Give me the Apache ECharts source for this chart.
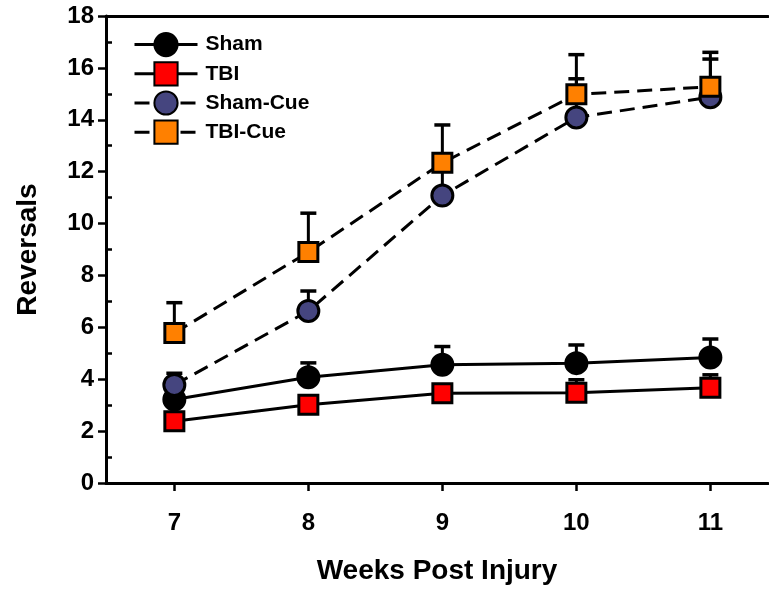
<!DOCTYPE html>
<html>
<head>
<meta charset="utf-8">
<script src="https://cdn.jsdelivr.net/npm/echarts@6/dist/echarts.min.js"></script>
<style>
  html, body { margin: 0; padding: 0; background: #fff; }
  #chart { width: 769px; height: 590px; }
</style>
</head>
<body>
<div id="chart"></div>
<script>
// Weeks after injury (x values)
const weeks = [7, 8, 9, 10, 11];
const weekTicks = [7, 8, 9, 10, 11];
const reversalTicks = [0, 2, 4, 6, 8, 10, 12, 14, 16, 18];
const minorTicks = [1, 3, 5, 7, 9, 11, 13, 15, 17];

// Group means and upper error (SEM)
const sham = [3.22, 4.08, 4.56, 4.62, 4.84];
const shamErr = [0.4, 0.55, 0.7, 0.7, 0.71];
const tbi = [2.38, 3.02, 3.46, 3.48, 3.67];
const tbiErr = [0.3, 0.3, 0.3, 0.5, 0.5];
const shamCue = [3.78, 6.63, 11.08, 14.09, 14.87];
const shamCueErr = [0.45, 0.77, 1.1, 1.49, 1.47];
const tbiCue = [5.78, 8.9, 12.34, 14.98, 15.27];
const tbiCueErr = [1.17, 1.5, 1.46, 1.53, 1.33];

const FONT = '"Liberation Sans", Arial, sans-serif';

function pairs(vals) { return weeks.map((w, i) => [w, vals[i]]); }
function errData(vals, errs) { return weeks.map((w, i) => [w, vals[i], errs[i]]); }

// Upward-only error bar with a cap
function renderErr(params, api) {
  const x = api.value(0), y = api.value(1), e = api.value(2);
  const p0 = api.coord([x, y]);
  const p1 = api.coord([x, y + e]);
  return {
    type: 'group',
    children: [
      { type: 'line', shape: { x1: p0[0], y1: p0[1], x2: p1[0], y2: p1[1] },
        style: { stroke: '#000', lineWidth: 3 } },
      { type: 'line', shape: { x1: p1[0] - 8, y1: p1[1], x2: p1[0] + 8, y2: p1[1] },
        style: { stroke: '#000', lineWidth: 3.5 } }
    ]
  };
}

function errSeries(vals, errs) {
  return {
    type: 'custom', renderItem: renderErr, data: errData(vals, errs),
    z: 1, silent: true, clip: false
  };
}

function lineSeries(name, vals, symbol, size, fill, dashed) {
  return {
    name: name, type: 'line', data: pairs(vals), z: 3,
    symbol: symbol, symbolSize: size,
    lineStyle: { color: '#000', width: 3, type: dashed ? [15, 8] : 'solid' },
    itemStyle: { color: fill, borderColor: '#000', borderWidth: 3, opacity: 1 },
    emphasis: { disabled: true },
    animation: false
  };
}

const chart = echarts.init(document.getElementById('chart'));
chart.setOption({
  animation: false,
  backgroundColor: '#fff',
  grid: { left: 106, right: 1, top: 16, bottom: 104, containLabel: false },
  legend: {
    orient: 'vertical', left: 128, top: 27,
    itemWidth: 63, itemHeight: 29, itemGap: 4,
    data: ['Sham', 'TBI', 'Sham-Cue', 'TBI-Cue'],
    lineStyle: { width: 3 },
    textStyle: { fontFamily: FONT, fontSize: 21, fontWeight: 'bold', color: '#000', padding: [0, 0, 0, 3] }
  },
  xAxis: [{
    type: 'value', min: 6.49, max: 11.43,
    name: 'Weeks Post Injury', nameLocation: 'middle', nameGap: 74,
    nameTextStyle: { fontFamily: FONT, fontSize: 28, fontWeight: 'bold', color: '#000' },
    axisLine: { show: true, lineStyle: { color: '#000', width: 3 } },
    axisTick: { show: true, customValues: weekTicks, length: 8, lineStyle: { color: '#000', width: 2.5 } },
    axisLabel: { customValues: weekTicks, margin: 28, fontFamily: FONT, fontSize: 24, fontWeight: 'bold', color: '#000' },
    splitLine: { show: false }
  }, {
    type: 'value', min: 6.49, max: 11.43, position: 'top',
    axisLine: { show: true, onZero: false, lineStyle: { color: '#000', width: 3 } },
    axisTick: { show: false }, axisLabel: { show: false }, splitLine: { show: false }
  }],
  yAxis: [{
    type: 'value', min: 0, max: 18, interval: 2,
    name: 'Reversals', nameLocation: 'middle', nameGap: 64, nameRotate: 90,
    nameTextStyle: { fontFamily: FONT, fontSize: 28, fontWeight: 'bold', color: '#000' },
    axisLine: { show: true, lineStyle: { color: '#000', width: 3 } },
    axisTick: { show: true, customValues: reversalTicks, length: 8, lineStyle: { color: '#000', width: 2.5 } },
    axisLabel: { customValues: reversalTicks, margin: 12, fontFamily: FONT, fontSize: 24, fontWeight: 'bold', color: '#000' },
    splitLine: { show: false }
  }, {
    type: 'value', min: 0, max: 18, position: 'left',
    axisLine: { show: false },
    axisTick: { show: true, inside: true, customValues: minorTicks, length: 6, lineStyle: { color: '#000', width: 2.5 } },
    axisLabel: { show: false }, splitLine: { show: false }
  }],
  series: [
    errSeries(sham, shamErr),
    errSeries(tbi, tbiErr),
    errSeries(shamCue, shamCueErr),
    errSeries(tbiCue, tbiCueErr),
    lineSeries('Sham', sham, 'circle', 21, '#000000', false),
    lineSeries('TBI', tbi, 'rect', 19, '#ff0000', false),
    lineSeries('Sham-Cue', shamCue, 'circle', 21, '#45457f', true),
    lineSeries('TBI-Cue', tbiCue, 'rect', 19, '#ff8000', true)
  ]
});
</script>
</body>
</html>
